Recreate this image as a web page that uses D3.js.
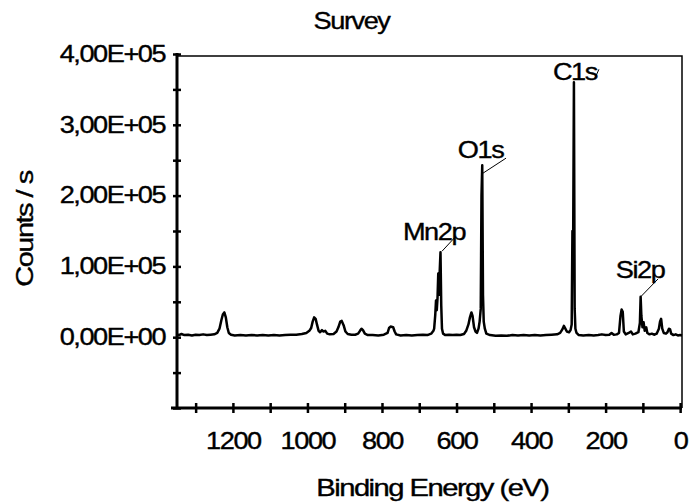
<!DOCTYPE html>
<html>
<head>
<meta charset="utf-8">
<script src="https://cdn.jsdelivr.net/npm/d3@7"></script>
<style>
  body { margin: 0; background: #fff; }
  text { font-family: "Liberation Sans", Arial, sans-serif; fill: #000; stroke: #000; stroke-width: 0.35px; letter-spacing: -1.2px; }
</style>
</head>
<body>
<svg id="chart" width="689" height="502"></svg>
<script>
// survey spectrum (binding energy in eV, counts/s)
const energy = [
  1350, 1345, 1338, 1330, 1320, 1310, 1300, 1290, 1280, 1270, 1260, 1250, 1242, 1236, 1231, 1227, 1223, 1219, 1215, 1211,
  1205, 1195, 1180, 1165, 1150, 1135, 1120, 1105, 1090, 1075, 1060, 1045, 1030, 1015, 1003, 995, 990, 986, 982, 978,
  974, 970, 966, 961, 957, 952, 947, 940, 930, 922, 917, 912, 908, 903, 898, 892, 882, 872, 864, 859,
  855, 851, 846, 838, 825, 810, 795, 785, 781, 777, 770, 766, 762, 750, 735, 720, 705, 690, 678, 668,
  662, 660, 657, 655, 653, 651, 649, 647, 645, 643, 641, 639, 636, 630, 620, 610, 600, 590, 580, 574,
  568, 564, 560, 557, 553, 549, 545, 541, 538, 535, 533, 531, 529, 527, 524, 520, 510, 495, 480, 465,
  450, 435, 420, 405, 390, 375, 360, 345, 330, 322, 316, 312, 308, 304, 298, 294, 291, 289, 287, 285,
  283, 281, 278, 272, 260, 245, 232, 220, 210, 200, 190, 184, 178, 170, 164, 160, 157, 154, 151, 146,
  138, 132, 127, 120, 112, 108, 106, 104, 101, 98, 95, 91, 88, 82, 76, 70, 63, 57, 54, 51,
  48, 44, 38, 34, 30, 27, 24, 18, 12, 6, 0, -5
];
const counts = [
  4000, 3000, 4500, 3000, 3500, 2500, 3500, 3000, 4000, 3000, 3500, 4000, 6000, 12000, 24000, 32000, 35000, 28000, 14000, 6000,
  3500, 2500, 3000, 2500, 3000, 2500, 3000, 2500, 3000, 2500, 3000, 3500, 3500, 4500, 6000, 9000, 13000, 22000, 28000, 26000,
  17000, 9000, 7000, 10000, 8000, 9000, 5000, 4000, 4500, 8000, 14000, 22000, 23000, 17000, 8000, 4500, 3500, 3500, 5000, 9000,
  12000, 10000, 5000, 3000, 3000, 2500, 3500, 6000, 13000, 15000, 14000, 8000, 4000, 2500, 3000, 2500, 3000, 3500, 3000, 5000,
  9000, 12000, 32000, 52000, 38000, 55000, 90000, 60000, 95000, 120000, 45000, 12000, 5000, 3000, 3500, 3000, 3500, 3000, 4500, 9000,
  18000, 28000, 35000, 30000, 14000, 8000, 6000, 12000, 22000, 40000, 200000, 243000, 60000, 22000, 12000, 5000, 3000, 2000, 2500, 2000,
  3000, 2500, 3000, 2500, 3000, 2500, 3000, 3500, 4000, 6000, 11000, 16000, 12000, 8000, 7000, 10000, 18000, 150000, 140000, 360000,
  40000, 12000, 6000, 3000, 2500, 3000, 2500, 3000, 4000, 3000, 3500, 6000, 3500, 4000, 6000, 30000, 39000, 36000, 8000, 4000,
  6000, 8000, 4000, 5000, 7000, 20000, 57000, 30000, 14000, 21000, 9000, 14000, 6000, 4000, 5000, 3500, 5000, 12000, 22000, 26000,
  12000, 6000, 5000, 7000, 12000, 11000, 5000, 3000, 4000, 2500, 3000, 2500
];

const peakNames = ['Mn2p', 'O1s', 'C1s', 'Si2p'];
const peakEnergy = [643, 531, 285, 106];
const peakCounts = [120000, 243000, 360000, 57000];

const xTicks = [1300, 1200, 1100, 1000, 900, 800, 700, 600, 500, 400, 300, 200, 100, 0];
const xTickLabels = ['', '1200', '', '1000', '', '800', '', '600', '', '400', '', '200', '', '0'];
const yTicks = [-100000, -50000, 0, 50000, 100000, 150000, 200000, 250000, 300000, 350000, 400000];
const yTickLabels = ['', '', '0,00E+00', '', '1,00E+05', '', '2,00E+05', '', '3,00E+05', '', '4,00E+05'];

const stretch = 1.18;
const plotLeft = 177, plotRight = 682, plotTop = 54, plotBottom = 408;

const svg = d3.select('#chart');

var x = d3.scaleLinear().domain([1350, -5]).range([plotLeft, plotRight]);
var y = d3.scaleLinear().domain([-100000, 400000]).range([plotBottom, plotTop]);

// frame (thin top/right)
svg.append('path')
  .attr('d', `M${plotLeft},56H${plotRight}V${plotBottom}`)
  .attr('fill', 'none')
  .attr('stroke', '#000')
  .attr('stroke-width', 1.5);

// spectrum
const pts = energy.map((e, i) => [e, counts[i]]);
svg.append('path')
  .datum(pts)
  .attr('fill', 'none')
  .attr('stroke', '#000')
  .attr('stroke-width', 2.5)
  .attr('stroke-linejoin', 'round')
  .attr('d', d3.line().x(d => x(d[0])).y(d => y(d[1])));

// y axis
const yAxis = svg.append('g')
  .attr('transform', `translate(${plotLeft},0)`)
  .call(d3.axisLeft(y).tickValues(yTicks).tickSize(4).tickPadding(6)
    .tickFormat((d, i) => yTickLabels[i]));
yAxis.select('.domain').remove();
yAxis.selectAll('line').attr('x1', 4).attr('stroke-width', 2.5);
yAxis.selectAll('text')
  .attr('font-size', 23)
  .attr('font-family', '"Liberation Sans", Arial, sans-serif')
  .attr('transform', `scale(${stretch},1)`);

// x axis
const xAxis = svg.append('g')
  .attr('transform', `translate(0,${plotBottom})`)
  .call(d3.axisBottom(x).tickValues(xTicks).tickSize(5).tickPadding(20)
    .tickFormat((d, i) => xTickLabels[i]));
xAxis.select('.domain').remove();
xAxis.selectAll('line').attr('y1', -5).attr('stroke-width', 2.5);
xAxis.selectAll('text')
  .attr('font-size', 23)
  .attr('font-family', '"Liberation Sans", Arial, sans-serif')
  .attr('transform', `scale(${stretch},1)`);

// thick axis lines
svg.append('path')
  .attr('d', `M${plotLeft},${y(400000) - 1}V${plotBottom}M${plotLeft - 6},${plotBottom}H${plotRight}`)
  .attr('fill', 'none')
  .attr('stroke', '#000')
  .attr('stroke-width', 3);

// peak labels with leader lines
const labelLayout = {
  Mn2p: { tx: -6.5, ty: -12, x1: 1.5, y1: -1, x2: 14.5, y2: -15 },
  O1s: { tx: -1.7, ty: -7, x1: 0.8, y1: 8, x2: 23.8, y2: -7 },
  C1s: { tx: 1, ty: -2, x1: 21, y1: -4, x2: 25, y2: -13 },
  Si2p: { tx: -0.6, ty: -18.6, x1: 0, y1: 0, x2: 17.5, y2: -18 }
};

peakNames.forEach((name, i) => {
  const px = x(peakEnergy[i]);
  const py = y(peakCounts[i]);
  const l = labelLayout[name];
  svg.append('line')
    .attr('x1', px + l.x1).attr('y1', py + l.y1)
    .attr('x2', px + l.x2).attr('y2', py + l.y2)
    .attr('stroke', '#000')
    .attr('stroke-width', 1);
  svg.append('text')
    .attr('transform', `translate(${px + l.tx},${py + l.ty}) scale(${stretch},1)`)
    .attr('text-anchor', 'middle')
    .attr('font-size', 23)
    .text(name);
});

// titles
svg.append('text')
  .attr('transform', `translate(351.5,29.3) scale(${stretch},1)`)
  .attr('text-anchor', 'middle')
  .attr('font-size', 23)
  .text('Survey');

svg.append('text')
  .attr('transform', 'translate(432.4,495.5) scale(1.27,1)')
  .attr('text-anchor', 'middle')
  .attr('font-size', 23)
  .text('Binding Energy (eV)');

svg.append('text')
  .attr('transform', 'translate(33,229) rotate(-90) scale(1.26,1)')
  .attr('text-anchor', 'middle')
  .attr('font-size', 23)
  .text('Counts / s');
</script>
</body>
</html>
